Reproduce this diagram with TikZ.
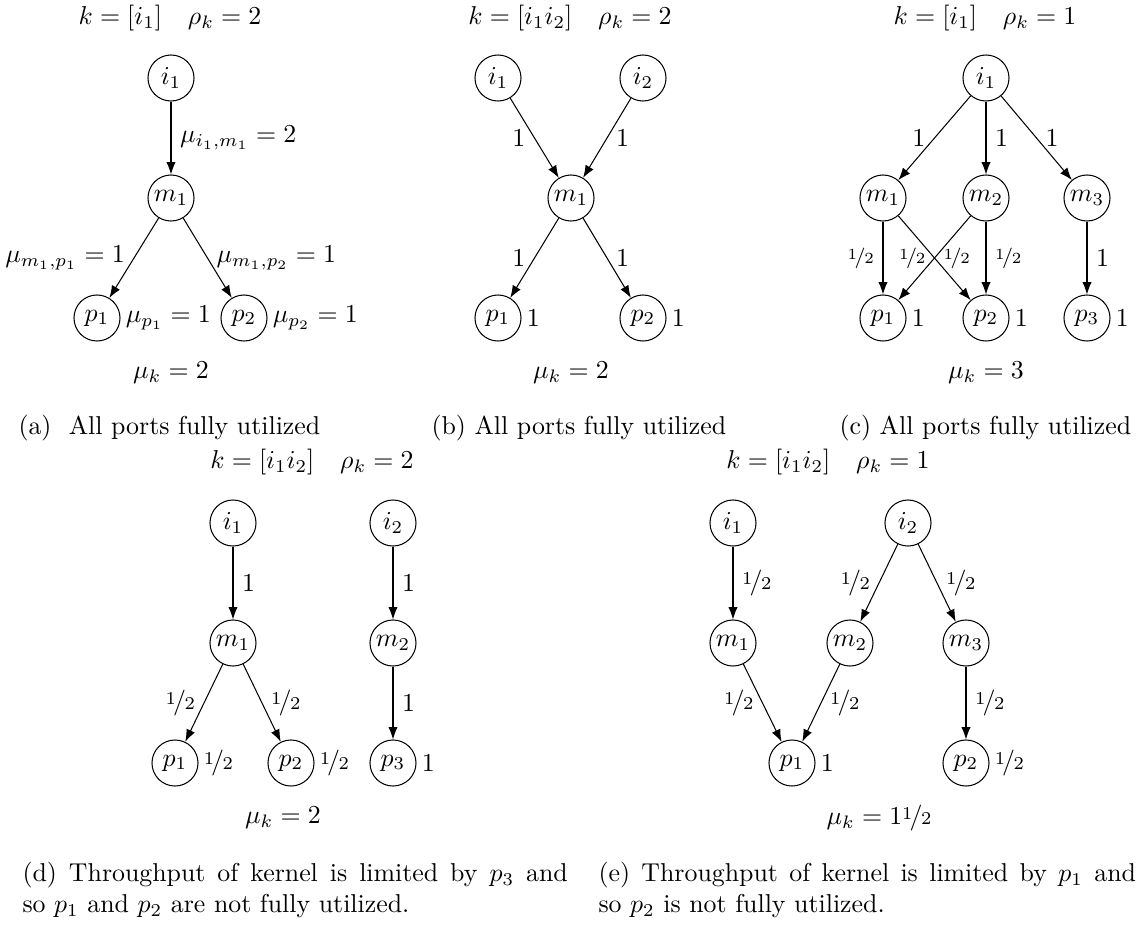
\documentclass[tikz,border=0pt]{standalone}
\usepackage{amsmath,amssymb}
\usepackage{nicefrac}
\usepackage{tikz}
\usetikzlibrary{arrows.meta,positioning}
\newcommand{\hlf}{\nicefrac{1}{2}}

\begin{document}
\begin{tikzpicture}[x=1.36mm,y=1.36mm,
    port/.style={circle,draw,minimum size=6.26mm,inner sep=0pt},
    link/.style={-{Latex}},
    subcap/.style={inner sep=0pt}]
  \useasboundingbox (0,0) rectangle (113.7,-92.5);
  % (a)
  \node (a-k) at (17.0,-1.8) {$k=[i_1]\quad\rho_k=2$};
  \node[port] (a-i1) at (17.1,-7.8) {$i_1$};
  \node[port] (a-m1) at (17.1,-19.8) {$m_1$};
  \node[port] (a-p1) at (9.7,-31.8) {$p_1$};
  \node[port] (a-p2) at (24.4,-31.8) {$p_2$};
  \draw[link] (a-i1) -- node[right] (a-e1) {$\mu_{i_1,m_1}=2$} (a-m1);
  \draw[link] (a-m1) -- node[left] (a-e2) {$\mu_{m_1,p_1}=1$} (a-p1);
  \draw[link] (a-m1) -- node[right] (a-e3) {$\mu_{m_1,p_2}=1$} (a-p2);
  \node[right=-1.5pt of a-p1] (a-u1) {$\mu_{p_1}=1$};
  \node[right=-1.5pt of a-p2] (a-u2) {$\mu_{p_2}=1$};
  \node (a-mu) at (17.1,-37.3) {$\mu_k=2$};
  \node[subcap,anchor=west] (a-cap) at (1.8,-42.8) {(a)\ \ All ports fully utilized};
  % (b)
  \node (b-k) at (57.0,-1.8) {$k=[i_1i_2]\quad\rho_k=2$};
  \node[port] (b-i1) at (49.8,-7.8) {$i_1$};
  \node[port] (b-i2) at (64.3,-7.8) {$i_2$};
  \node[port] (b-m1) at (57.1,-19.8) {$m_1$};
  \node[port] (b-p1) at (49.8,-31.8) {$p_1$};
  \node[port] (b-p2) at (64.3,-31.8) {$p_2$};
  \draw[link] (b-i1) -- node[left] (b-e1) {$1$} (b-m1);
  \draw[link] (b-i2) -- node[right] (b-e2) {$1$} (b-m1);
  \draw[link] (b-m1) -- node[left] (b-e3) {$1$} (b-p1);
  \draw[link] (b-m1) -- node[right] (b-e4) {$1$} (b-p2);
  \foreach \p in {1,2}{\node[right=-1.5pt of b-p\p] (b-u\p) {$1$};}
  \node (b-mu) at (57.1,-37.3) {$\mu_k=2$};
  \node[subcap,anchor=west] (b-cap) at (43.1,-42.8) {(b) All ports fully utilized};
  % (c)
  \node (c-k) at (98.5,-1.8) {$k=[i_1]\quad\rho_k=1$};
  \node[port] (c-i1) at (98.6,-7.8) {$i_1$};
  \node[port] (c-m1) at (88.3,-19.8) {$m_1$};
  \node[port] (c-m2) at (98.6,-19.8) {$m_2$};
  \node[port] (c-m3) at (108.7,-19.8) {$m_3$};
  \node[port] (c-p1) at (88.3,-31.8) {$p_1$};
  \node[port] (c-p2) at (98.6,-31.8) {$p_2$};
  \node[port] (c-p3) at (108.7,-31.8) {$p_3$};
  \foreach \m/\s in {1/left,2/right,3/right}{\draw[link] (c-i1) -- node[\s] (c-e\m) {$1$} (c-m\m);}
  \draw[link] (c-m1) -- node[left,font=\footnotesize] (c-f1) {$\hlf$} (c-p1);
  \draw[link] (c-m1) -- node[right,font=\footnotesize] (c-f2) {$\hlf$} (c-p2);
  \draw[link] (c-m2) -- node[left,font=\footnotesize] (c-f3) {$\hlf$} (c-p1);
  \draw[link] (c-m2) -- node[right,font=\footnotesize] (c-f4) {$\hlf$} (c-p2);
  \draw[link] (c-m3) -- node[right] (c-f5) {$1$} (c-p3);
  \foreach \p in {1,2,3}{\node[right=-1.5pt of c-p\p] (c-u\p) {$1$};}
  \node (c-mu) at (98.6,-37.3) {$\mu_k=3$};
  \node[subcap,anchor=west] (c-cap) at (83.9,-42.8) {(c) All ports fully utilized};
  % (d)
  \node (d-k) at (31.2,-46.2) {$k=[i_1i_2]\quad\rho_k=2$};
  \node[port] (d-i1) at (23.3,-52.3) {$i_1$};
  \node[port] (d-i2) at (39.3,-52.3) {$i_2$};
  \node[port] (d-m1) at (23.3,-64.3) {$m_1$};
  \node[port] (d-m2) at (39.3,-64.3) {$m_2$};
  \node[port] (d-p1) at (17.5,-76.3) {$p_1$};
  \node[port] (d-p2) at (29.1,-76.3) {$p_2$};
  \node[port] (d-p3) at (39.3,-76.3) {$p_3$};
  \draw[link] (d-i1) -- node[right] (d-e1) {$1$} (d-m1);
  \draw[link] (d-i2) -- node[right] (d-e2) {$1$} (d-m2);
  \draw[link] (d-m1) -- node[left] (d-e3) {$\hlf$} (d-p1);
  \draw[link] (d-m1) -- node[right] (d-e4) {$\hlf$} (d-p2);
  \draw[link] (d-m2) -- node[right] (d-e5) {$1$} (d-p3);
  \node[right=-1.5pt of d-p1] (d-u1) {$\hlf$};
  \node[right=-1.5pt of d-p2] (d-u2) {$\hlf$};
  \node[right=-1.5pt of d-p3] (d-u3) {$1$};
  \node (d-mu) at (28.3,-81.8) {$\mu_k=2$};
  \node[subcap,anchor=north west,text width=211pt,align=justify] (d-cap) at (2.2,-86.2)
    {(d) Throughput of kernel is limited by $p_3$ and\linebreak so $p_1$ and $p_2$ are not fully utilized.};
  % (e)
  \node (e-k) at (82.8,-46.2) {$k=[i_1i_2]\quad\rho_k=1$};
  \node[port] (e-i1) at (73.3,-52.3) {$i_1$};
  \node[port] (e-i2) at (90.8,-52.3) {$i_2$};
  \node[port] (e-m1) at (73.3,-64.3) {$m_1$};
  \node[port] (e-m2) at (85.0,-64.3) {$m_2$};
  \node[port] (e-m3) at (96.6,-64.3) {$m_3$};
  \node[port] (e-p1) at (79.2,-76.3) {$p_1$};
  \node[port] (e-p2) at (96.6,-76.3) {$p_2$};
  \draw[link] (e-i1) -- node[right] (e-e1) {$\hlf$} (e-m1);
  \draw[link] (e-i2) -- node[left] (e-e2) {$\hlf$} (e-m2);
  \draw[link] (e-i2) -- node[right] (e-e3) {$\hlf$} (e-m3);
  \draw[link] (e-m1) -- node[left] (e-e4) {$\hlf$} (e-p1);
  \draw[link] (e-m2) -- node[right] (e-e5) {$\hlf$} (e-p1);
  \draw[link] (e-m3) -- node[right] (e-e6) {$\hlf$} (e-p2);
  \node[right=-1.5pt of e-p1] (e-u1) {$1$};
  \node[right=-1.5pt of e-p2] (e-u2) {$\hlf$};
  \node (e-mu) at (87.9,-81.8) {$\mu_k=1\hlf$};
  \node[subcap,anchor=north west,text width=208pt,align=justify] (e-cap) at (59.8,-86.2)
    {(e) Throughput of kernel is limited by $p_1$ and\linebreak so $p_2$ is not fully utilized.};
\end{tikzpicture}
\end{document}
